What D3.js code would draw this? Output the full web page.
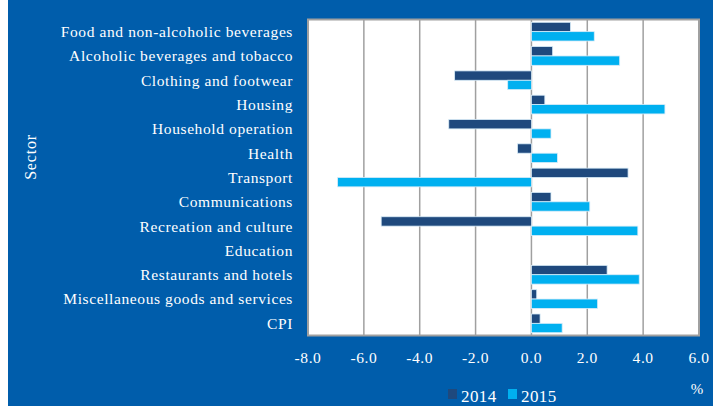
<!DOCTYPE html>
<html>
<head>
<meta charset="utf-8">
<script src="https://cdn.jsdelivr.net/npm/d3@7"></script>
<style>
  body { margin: 0; background: #fff; }
  text { font-family: "Liberation Serif", "Times New Roman", serif; }
</style>
</head>
<body>
<svg id="chart"></svg>
<script>
const sectors = ["Food and non-alcoholic beverages", "Alcoholic beverages and tobacco",
  "Clothing and footwear", "Housing", "Household operation", "Health", "Transport",
  "Communications", "Recreation and culture", "Education", "Restaurants and hotels",
  "Miscellaneous goods and services", "CPI"]
const y2014 = [1.4, 0.76, -2.75, 0.48, -2.96, -0.5, 3.46, 0.7, -5.38, 0, 2.71, 0.19, 0.31]
const y2015 = [2.25, 3.16, -0.85, 4.78, 0.7, 0.93, -6.94, 2.09, 3.81, 0, 3.86, 2.37, 1.1]
const xTicks = [-8, -6, -4, -2, 0, 2, 4, 6]
const years = ["2014", "2015"]

const width = 713, height = 406
const colors = { "2014": "#1f497d", "2015": "#00b0f0" }

const svg = d3.select("#chart").attr("width", width).attr("height", height)

// blue backdrop with white strip on the left
svg.append("rect").attr("x", 8).attr("y", 0).attr("width", width - 8).attr("height", height)
  .attr("fill", "#005dab")

const plot = { left: 308, right: 699, top: 19.5, bottom: 335.5 }

const x = d3.scaleLinear().domain([-8, 6]).range([plot.left, plot.right])
const y = d3.scaleBand().domain(sectors).range([plot.top, plot.bottom]).paddingInner(0.23).paddingOuter(0.115)
const inner = d3.scaleBand().domain(years).range([0, y.bandwidth()])

svg.append("rect")
  .attr("x", plot.left).attr("y", plot.top)
  .attr("width", plot.right - plot.left).attr("height", plot.bottom - plot.top)
  .attr("fill", "#fff")

// gridlines
svg.append("g").selectAll("line")
  .data(xTicks.slice(1, -1))
  .join("line")
  .attr("x1", d => x(d)).attr("x2", d => x(d))
  .attr("y1", plot.top).attr("y2", plot.bottom)
  .attr("stroke", "#a0a0a0").attr("stroke-width", 1.5)

const rows = sectors.map((s, i) => ({ s, v: { "2014": y2014[i], "2015": y2015[i] } }))

const bars = svg.append("g")
years.forEach(yr => {
  bars.append("g").selectAll("rect")
    .data(rows)
    .join("rect")
    .attr("x", d => x(Math.min(0, d.v[yr])))
    .attr("y", d => y(d.s) + inner(yr))
    .attr("width", d => Math.abs(x(d.v[yr]) - x(0)))
    .attr("height", inner.bandwidth())
    .attr("fill", colors[yr])
    .attr("stroke", d => d.v[yr] === 0 ? "none" : "#d8ecf8")
    .attr("stroke-width", 0.8)
})

// plot border
svg.append("rect")
  .attr("x", plot.left).attr("y", plot.top)
  .attr("width", plot.right - plot.left).attr("height", plot.bottom - plot.top)
  .attr("fill", "none").attr("stroke", "#a0a0a0").attr("stroke-width", 2)

// category labels
svg.append("g").selectAll("text")
  .data(sectors)
  .join("text")
  .attr("x", 293)
  .attr("y", d => y(d) + y.bandwidth() / 2)
  .attr("dy", "0.35em")
  .attr("text-anchor", "end")
  .attr("fill", "#fff")
  .attr("font-size", 15.5)
  .attr("letter-spacing", 0.6)
  .text(d => d)

// x tick labels
svg.append("g").selectAll("text")
  .data(xTicks)
  .join("text")
  .attr("x", d => x(d))
  .attr("y", 363)
  .attr("text-anchor", "middle")
  .attr("fill", "#fff")
  .attr("font-size", 15.5)
  .attr("letter-spacing", 0.6)
  .text(d => d3.format(".1f")(d).replace("\u2212", "-"))

svg.append("text").attr("x", 697).attr("y", 394).attr("text-anchor", "middle")
  .attr("fill", "#fff").attr("font-size", 15).text("%")

svg.append("text")
  .attr("transform", "translate(36,157) rotate(-90)")
  .attr("text-anchor", "middle")
  .attr("fill", "#fff").attr("font-size", 16)
  .attr("letter-spacing", 0.8)
  .text("Sector")

// legend
const legend = svg.append("g").attr("transform", "translate(448,389)")
years.forEach((yr, i) => {
  const g = legend.append("g").attr("transform", "translate(" + (i * 60) + ",0)")
  g.append("rect").attr("width", 9).attr("height", 10).attr("fill", colors[yr])
  g.append("text").attr("x", 13).attr("y", 12.5).attr("fill", "#fff")
    .attr("font-size", 17).attr("letter-spacing", 0.4).text(yr)
})
</script>
</body>
</html>
